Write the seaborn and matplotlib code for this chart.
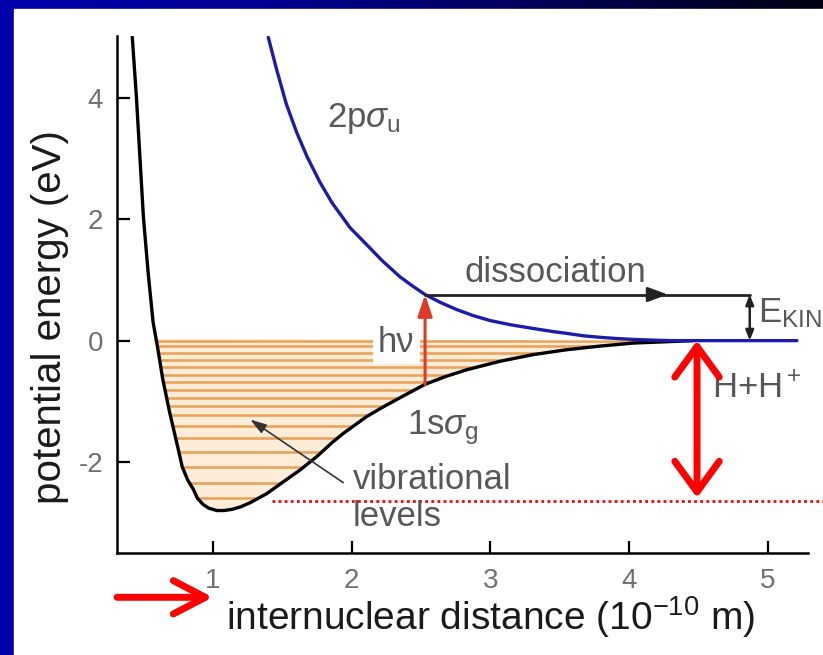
import numpy as np
import matplotlib
matplotlib.use("Agg")
import matplotlib.pyplot as plt
import seaborn as sns
from matplotlib.patches import Polygon, Rectangle
from matplotlib.colors import LinearSegmentedColormap

# H2+ potential curves (x in 1e-10 m, y in eV)
ground_x = [0.42, 0.45, 0.50, 0.535, 0.57, 0.60, 0.64, 0.69, 0.74, 0.78, 0.82, 0.86,
            0.89, 0.93, 0.97, 1.03, 1.08, 1.14, 1.20, 1.27, 1.39, 1.50, 1.63, 1.75,
            1.86, 1.94, 2.11, 2.23, 2.35, 2.44, 2.53, 2.68, 2.83, 3.07, 3.31, 3.55,
            3.79, 4.03, 4.25, 4.46]
ground_y = [5.00, 4.00, 2.04, 1.10, 0.30, -0.08, -0.64, -1.19, -1.68, -2.08, -2.30, -2.45,
            -2.60, -2.70, -2.76, -2.80, -2.80, -2.78, -2.74, -2.67, -2.52, -2.34, -2.13, -1.91,
            -1.68, -1.53, -1.25, -1.09, -0.94, -0.83, -0.72, -0.59, -0.48, -0.34, -0.23, -0.15,
            -0.09, -0.04, -0.02, 0.00]

excited_x = [1.40, 1.46, 1.53, 1.605, 1.68, 1.77, 1.86, 1.99, 2.11, 2.22, 2.35, 2.44,
             2.53, 2.64, 2.76, 2.88, 3.00, 3.15, 3.31, 3.45, 3.55, 3.67, 3.79, 3.91,
             4.03, 4.15, 4.30, 5.21]
excited_y = [5.00, 4.47, 3.90, 3.43, 3.03, 2.62, 2.27, 1.86, 1.58, 1.32, 1.05, 0.90,
             0.76, 0.63, 0.51, 0.41, 0.33, 0.26, 0.20, 0.15, 0.12, 0.08, 0.055, 0.035,
             0.02, 0.01, 0.00, 0.00]

# vibrational levels of the ground state
vib_levels = [0.0, -0.09, -0.20, -0.32, -0.44, -0.56, -0.68, -0.81, -0.94, -1.08,
              -1.23, -1.40, -1.60, -1.83, -2.08, -2.34, -2.59]

xticks = [1, 2, 3, 4, 5]
yticks = [-2, 0, 2, 4]

# photon absorption and dissociation path
photon_x = 2.53
photon_y = [-0.72, 0.76]
dissoc_y = 0.76
dissoc_end = 4.87
dissoc_head = 4.28
# binding energy arrow and dotted line at bottom of well
bind_x = 4.49
bind_y = [-2.59, 0.0]
dot_y = -2.65
dot_x = [1.43, 5.40]
# pointer on the x axis
pointer_x = [0.31, 1.0]
pointer_y = -4.23

sns.set_theme(style="ticks")
plt.rcParams["font.family"] = ["Liberation Sans", "DejaVu Sans"]
plt.rcParams["mathtext.fontset"] = "custom"
plt.rcParams["mathtext.rm"] = "Liberation Sans"
plt.rcParams["mathtext.it"] = "Liberation Sans:italic"
plt.rcParams["mathtext.bf"] = "Liberation Sans:bold"
plt.rcParams["axes.unicode_minus"] = False

fig = plt.figure(figsize=(8.23, 6.55), dpi=100)

# slide background: blue gradient frame, white panel
bg = fig.add_axes([0, 0, 1, 1], zorder=-10)
slide = LinearSegmentedColormap.from_list("slide", ["#0000ac", "#000090", "#000055", "#000012"])
bg.imshow(np.linspace(0, 1, 256).reshape(1, -1), aspect="auto", cmap=slide,
          extent=[0, 823, 0, 655])
bg.add_patch(Rectangle((14, 0), 823, 646, color="white"))
bg.set_xlim(0, 823)
bg.set_ylim(0, 655)
bg.axis("off")

ax = fig.add_axes([0.1422, 0.1557, 0.8396, 0.7893])
ax.set_facecolor("none")

# shaded well with vibrational levels clipped to it
well = Polygon(np.column_stack([ground_x, np.minimum(ground_y, 0.03)]), closed=True,
               fc="#fdecd8", ec="none", zorder=1)
ax.add_patch(well)
levels = ax.hlines(vib_levels, 0.3, 4.6, colors="#e8a35c", lw=1.9, zorder=1.5)
levels.set_clip_path(well)

sns.lineplot(x=ground_x, y=ground_y, ax=ax, color="black", lw=2.4,
             estimator=None, sort=False, zorder=4)
sns.lineplot(x=excited_x, y=excited_y, ax=ax, color="#1c1ca8", lw=2.4,
             estimator=None, sort=False, zorder=4.5)

txt = "#585858"
ax.text(photon_x - 0.34, -0.18, "hν", fontsize=25, color=txt, ha="left", va="baseline",
        zorder=3, bbox=dict(boxstyle="square,pad=0.15", fc="white", ec="none"))
ax.annotate("", xy=(photon_x, photon_y[1]), xytext=(photon_x, photon_y[0]), zorder=5,
            arrowprops=dict(arrowstyle="-|>,head_length=0.65,head_width=0.22", color="#dd3b2a",
                            lw=2.2, mutation_scale=20, shrinkA=0, shrinkB=0))

ax.plot([photon_x, dissoc_end, dissoc_end], [dissoc_y, dissoc_y, dissoc_y],
        color="#222222", lw=2, zorder=5)
ax.annotate("", xy=(dissoc_head, dissoc_y), xytext=(dissoc_head - 0.1, dissoc_y), zorder=5,
            arrowprops=dict(arrowstyle="-|>,head_length=0.6,head_width=0.22", color="#222222",
                            lw=2, mutation_scale=20, shrinkA=0, shrinkB=0))
ax.annotate("", xy=(dissoc_end, 0), xytext=(dissoc_end, dissoc_y), zorder=5,
            arrowprops=dict(arrowstyle="<|-|>,head_length=0.5,head_width=0.2", color="#222222",
                            lw=1.8, mutation_scale=12, shrinkA=0, shrinkB=0))

ax.plot(dot_x, [dot_y, dot_y], color="red", lw=2, ls=(0, (1, 1.2)), clip_on=False, zorder=2)
ax.annotate("", xy=(bind_x, bind_y[1]), xytext=(bind_x, bind_y[0]), zorder=6,
            arrowprops=dict(arrowstyle="<->,head_length=1.1,head_width=0.8", color="red",
                            lw=5, mutation_scale=20, shrinkA=0, shrinkB=0,
                            capstyle="round", joinstyle="round"))
ax.annotate("", xy=(pointer_x[1], pointer_y), xytext=(pointer_x[0], pointer_y),
            annotation_clip=False,
            arrowprops=dict(arrowstyle="->,head_length=1.15,head_width=0.6", color="red",
                            lw=5, mutation_scale=20, shrinkA=0, shrinkB=0,
                            capstyle="round", joinstyle="round"))

ax.annotate("", xy=(1.27, -1.30), xytext=(1.94, -2.34), zorder=5,
            arrowprops=dict(arrowstyle="-|>,head_length=0.7,head_width=0.22", color="#333333",
                            lw=1.2, mutation_scale=14, shrinkA=0, shrinkB=0))

ax.text(1.82, 3.52, r"2p$\sigma_\mathrm{u}$", fontsize=25, color=txt, va="baseline")
ax.text(2.815, 0.97, "dissociation", fontsize=25, color=txt, va="baseline")
ax.text(2.40, -1.55, r"1s$\sigma_\mathrm{g}$", fontsize=25, color=txt, va="baseline")
ax.text(2.01, -2.45, "vibrational", fontsize=25, color=txt, va="baseline")
ax.text(2.01, -3.06, "levels", fontsize=25, color=txt, va="baseline")
ax.text(4.93, 0.30, r"E$_\mathrm{KIN}$", fontsize=25, color=txt, va="baseline")
ax.text(4.595, -0.94, r"H+H$^+$", fontsize=25, color=txt, va="baseline")

ax.set_xlim(0.31, 5.29)
ax.set_ylim(-3.5, 5.02)
ax.set_xticks(xticks)
ax.set_yticks(yticks)
ax.set_xlabel("")
ax.set_ylabel("")
sns.despine(ax=ax)
for side in ["left", "bottom"]:
    ax.spines[side].set_linewidth(1.8)
    ax.spines[side].set_color("black")
ax.tick_params(direction="in", length=9, width=1.6, color="black",
               labelcolor="#707070", labelsize=20)
ax.tick_params(axis="y", pad=10)
ax.tick_params(axis="x", pad=11)

fig.text(490 / 823, 25 / 655, r"internuclear distance (10$^{-10}$ m)", fontsize=28,
         color="#1a1a1a", ha="center", va="baseline")
fig.text(50 / 823, 1 - 317 / 655, "potential energy (eV)", fontsize=29, rotation=90,
         color="#1a1a1a", ha="center", va="center")

fig.savefig("out.png", dpi=100)
